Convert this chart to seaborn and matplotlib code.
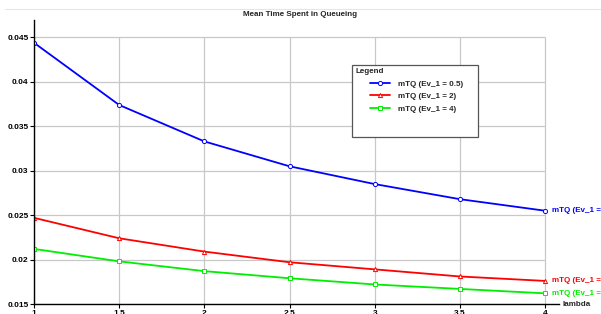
import pandas as pd
import matplotlib
matplotlib.use("Agg")
import matplotlib.pyplot as plt
import seaborn as sns
from matplotlib.lines import Line2D
from matplotlib.patches import Rectangle
from matplotlib.legend_handler import HandlerLine2D

sns.set_theme(style="white")
plt.rcParams["font.family"] = ["Liberation Sans", "DejaVu Sans"]

# Data
LAMBDA = [1.0, 1.5, 2.0, 2.5, 3.0, 3.5, 4.0]
MTQ_EV05 = [0.0444, 0.0374, 0.0333, 0.0305, 0.0285, 0.0268, 0.0255]
MTQ_EV2 = [0.0247, 0.0224, 0.0209, 0.0197, 0.0189, 0.0181, 0.0176]
MTQ_EV4 = [0.0212, 0.0198, 0.0187, 0.0179, 0.0172, 0.0167, 0.0162]
SERIES = ["mTQ (Ev_1 = 0.5)", "mTQ (Ev_1 = 2)", "mTQ (Ev_1 = 4)"]
COLORS = ["#0000ff", "#ff0000", "#00ee00"]
MARKERS = ["o", "^", "s"]
X_TICKS = [1, 1.5, 2, 2.5, 3, 3.5, 4]
Y_TICKS = [0.015, 0.02, 0.025, 0.03, 0.035, 0.04, 0.045]

FS = 5.8

df = pd.DataFrame({
    "lambda": LAMBDA * 3,
    "mTQ": MTQ_EV05 + MTQ_EV2 + MTQ_EV4,
    "series": [s for s in SERIES for _ in LAMBDA],
})


class EndMarkerHandler(HandlerLine2D):
    # marker only at the right end of the legend line
    def get_xdata(self, legend, xdescent, ydescent, width, height, fontsize):
        xdata, _ = super().get_xdata(legend, xdescent, ydescent, width, height, fontsize)
        return xdata, [xdata[-1]]


fig = plt.figure(figsize=(6.01, 3.14), dpi=100)
ax = fig.add_axes([0.0566, 0.0318, 0.8729, 0.9055])

# grid drawn only inside the data region
ax.hlines(Y_TICKS, 1, 4, color="#c8c8c8", lw=0.9, zorder=0)
ax.vlines(X_TICKS, 0.015, 0.045, color="#c8c8c8", lw=0.9, zorder=0)

sns.lineplot(data=df, x="lambda", y="mTQ", hue="series", style="series",
             palette=COLORS, markers=MARKERS, dashes=False, lw=1.3,
             markersize=3.0, legend=False, ax=ax)
for line, c in zip(ax.lines[-3:], COLORS):
    line.set_markerfacecolor("white")
    line.set_markeredgecolor(c)
    line.set_markeredgewidth(0.7)

ax.set_xlim(1, 4.08)
ax.set_ylim(0.015, 0.047)
ax.set_xticks(X_TICKS)
ax.set_xticklabels([f"{v:g}" for v in X_TICKS])
ax.set_yticks(Y_TICKS)
ax.set_yticklabels([f"{v:g}" for v in Y_TICKS])
ax.tick_params(axis="both", labelsize=6.0, length=3, width=0.8, pad=1,
               direction="out", bottom=True, left=True, colors="black")
for lab in ax.get_xticklabels() + ax.get_yticklabels():
    lab.set_fontweight("bold")
ax.set_xlabel("")
ax.set_ylabel("")
for side in ["top", "right"]:
    ax.spines[side].set_visible(False)
for side in ["left", "bottom"]:
    ax.spines[side].set_color("black")
    ax.spines[side].set_linewidth(1.0)

# end-of-line labels (run off the right edge, as in the original)
for name, vals, c in zip(SERIES, [MTQ_EV05, MTQ_EV2, MTQ_EV4], COLORS):
    ax.annotate(name, (LAMBDA[-1], vals[-1]), xytext=(5, 0), textcoords="offset points",
                color=c, fontsize=FS, fontweight="bold", va="center", ha="left",
                annotation_clip=False)
ax.annotate("lambda", (1, 0), xycoords="axes fraction", xytext=(3, 0),
            textcoords="offset points", fontsize=FS, fontweight="bold",
            va="center", ha="left", annotation_clip=False)

# legend box
ax.add_patch(Rectangle((0.606, 0.588), 0.240, 0.253, transform=ax.transAxes,
                       facecolor="white", edgecolor="#555555", lw=0.9, zorder=4))
ax.text(0.612, 0.830, "Legend", transform=ax.transAxes, fontsize=FS,
        fontweight="bold", ha="left", va="top", zorder=5)
handles = [Line2D([], [], color=c, marker=m, lw=1.3, markersize=3.0,
                  markerfacecolor="white", markeredgecolor=c, markeredgewidth=0.7)
           for c, m in zip(COLORS, MARKERS)]
leg = ax.legend(handles, SERIES, loc="upper left", bbox_to_anchor=(0.640, 0.788),
                frameon=False, fontsize=FS, handlelength=2.5, handletextpad=1.0,
                labelspacing=0.6, borderpad=0, borderaxespad=0,
                handler_map={Line2D: EndMarkerHandler()})
leg.set_zorder(6)
for t in leg.get_texts():
    t.set_fontweight("bold")

fig.add_artist(Line2D([0.008, 1.0], [0.971, 0.971], transform=fig.transFigure,
                      color="#e6e6e6", lw=0.8))
fig.text(0.5, 0.955, "Mean Time Spent in Queueing", ha="center", va="center",
         fontsize=FS, fontweight="bold")

fig.savefig("out.png", dpi=100)
